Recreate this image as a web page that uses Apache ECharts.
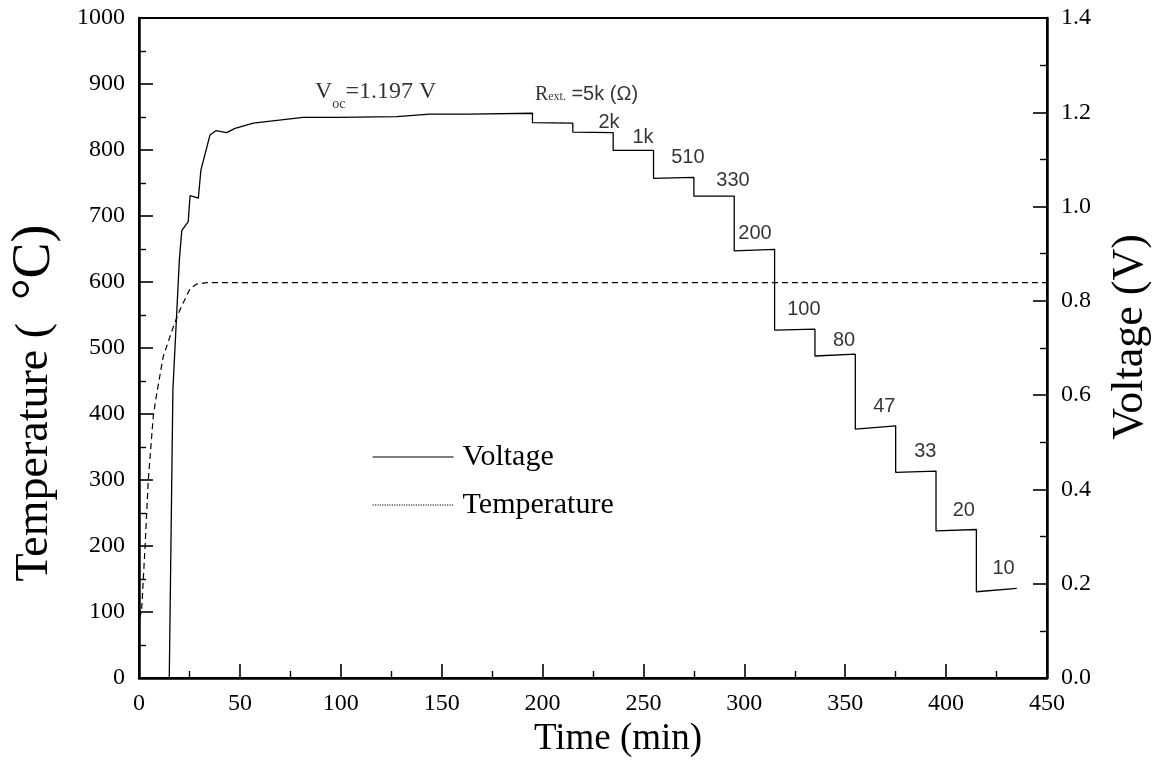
<!DOCTYPE html>
<html>
<head>
<meta charset="utf-8">
<script src="https://cdn.jsdelivr.net/npm/echarts@6/dist/echarts.min.js"></script>
<style>
    html, body { margin: 0; padding: 0; background: #fff; }
    #chart { width: 1152px; height: 762px; }
</style>
</head>
<body>
<div id="chart"></div>
<script>
// --- 数据 ---
// 电压 (V) 随时间 (min)
const voltTime = [15, 16.8, 20, 21.2, 24.4, 25.3, 29.4, 30.7, 35.2, 38.1, 43.4, 47.6, 56.6, 81.4, 98, 127.7, 144, 164, 195,
    195, 215, 215, 235, 235, 255, 255, 275, 275, 295, 295, 315, 315, 335, 335, 355, 355, 375, 375, 395, 395, 415, 415, 435];
const voltValue = [0, 0.611, 0.887, 0.949, 0.968, 1.023, 1.018, 1.078, 1.152, 1.161, 1.157, 1.166, 1.177, 1.189, 1.189, 1.191, 1.196, 1.196, 1.198,
    1.178, 1.177, 1.158, 1.157, 1.119, 1.119, 1.060, 1.062, 1.022, 1.022, 0.906, 0.909, 0.738, 0.740, 0.683, 0.687, 0.528, 0.535, 0.436, 0.439, 0.312, 0.315, 0.183, 0.190];

// 温度 (°C) 随时间 (min)
const tempTime = [0.3, 1.3, 3, 4.6, 7.1, 8.8, 12, 17, 20.3, 25.3, 28.6, 33.5, 450];
const tempValue = [90, 103, 199, 300, 398, 431, 487, 532, 558, 590, 597, 599, 599];

// 外接电阻标注
const stepLabels = ['2k', '1k', '510', '330', '200', '100', '80', '47', '33', '20', '10'];
const stepLabelTime = [232.9, 249.8, 272.0, 294.4, 305.3, 329.5, 349.4, 369.4, 389.7, 408.8, 428.5];
const stepLabelVolt = [1.179, 1.146, 1.105, 1.056, 0.942, 0.781, 0.716, 0.577, 0.480, 0.356, 0.233];

// 左对齐的标注 (开路电压, 电阻说明)
const noteTime = [87.2, 196.2];
const noteVolt = [1.243, 1.237];

const chart = echarts.init(document.getElementById('chart'));

const serif = 'Liberation Serif';
const sans = 'Liberation Sans';

function axisCommon() {
    return {
        axisLine: { show: true, lineStyle: { color: '#000', width: 2.5 } },
        axisTick: { show: true, inside: true, length: 14, lineStyle: { color: '#000', width: 1.6 } },
        minorTick: { show: true, splitNumber: 2, length: 7, lineStyle: { color: '#000', width: 1.4 } },
        splitLine: { show: false },
        axisLabel: { color: '#000', fontFamily: serif, fontSize: 24, margin: 14 }
    };
}

const stepData = stepLabels.map((txt, i) => ({
    value: [stepLabelTime[i], stepLabelVolt[i]],
    label: { formatter: txt }
}));

const noteData = [
    {
        value: [noteTime[0], noteVolt[0]],
        label: { formatter: '{a|V}{b|oc}{a|=1.197 V}' }
    },
    {
        value: [noteTime[1], noteVolt[1]],
        label: { formatter: '{r|R}{e|ext.}{s| =5k (Ω)}' }
    }
];

const option = {
    backgroundColor: '#fff',
    animation: false,
    grid: {
        left: 139, right: 105, top: 18, bottom: 84,
        show: true, borderColor: '#000', borderWidth: 2,
        outerBoundsMode: 'none'
    },
    legend: {
        orient: 'vertical',
        left: 367,
        top: 437,
        itemWidth: 81,
        itemHeight: 14,
        itemGap: 18,
        itemStyle: { opacity: 0 },
        textStyle: { color: '#000', fontFamily: serif, fontSize: 30, padding: [0, 0, 0, 4] },
        data: [
            { name: 'Voltage', itemStyle: { opacity: 0 }, lineStyle: { type: 'solid', width: 1.2, color: '#000', opacity: 1 } },
            { name: 'Temperature', itemStyle: { opacity: 0 }, lineStyle: { type: 'dotted', width: 1.2, color: '#000', opacity: 1 } }
        ]
    },
    xAxis: Object.assign(axisCommon(), {
        type: 'value',
        min: 0, max: 450, interval: 50,
        name: 'Time (min)',
        nameLocation: 'middle',
        nameGap: 38,
        nameTextStyle: { color: '#000', fontFamily: serif, fontSize: 37, padding: [0, 0, 0, 50] }
    }),
    yAxis: [
        Object.assign(axisCommon(), {
            type: 'value',
            position: 'left',
            min: 0, max: 1000, interval: 100,
            name: '{t|Temperature (  }{c|°C)}',
            nameLocation: 'middle',
            nameGap: 77,
            nameTextStyle: {
                color: '#000', fontFamily: serif, fontSize: 46, padding: [0, 110, 0, 0],
                rich: {
                    t: { fontFamily: serif, fontSize: 46, color: '#000' },
                    c: { fontFamily: serif, fontSize: 54, color: '#000' }
                }
            }
        }),
        Object.assign(axisCommon(), {
            type: 'value',
            position: 'right',
            min: 0, max: 1.4, interval: 0.2,
            name: 'Voltage (V)',
            nameLocation: 'middle',
            nameGap: 61,
            nameTextStyle: { color: '#000', fontFamily: serif, fontSize: 44, padding: [0, 0, 0, 22] }
        })
    ],
    series: [
        {
            name: 'Voltage',
            type: 'line',
            yAxisIndex: 1,
            symbol: 'none',
            lineStyle: { color: '#000', width: 1.3 },
            itemStyle: { color: '#000' },
            data: voltTime.map((t, i) => [t, voltValue[i]]),
            z: 3
        },
        {
            name: 'Temperature',
            type: 'line',
            yAxisIndex: 0,
            symbol: 'none',
            lineStyle: { color: '#000', width: 1.2, type: [6, 4] },
            itemStyle: { color: '#000' },
            data: tempTime.map((t, i) => [t, tempValue[i]]),
            z: 2
        },
        {
            name: 'steps',
            type: 'scatter',
            yAxisIndex: 1,
            symbolSize: 0,
            silent: true,
            label: {
                show: true,
                position: 'inside',
                color: '#000',
                fontFamily: sans,
                fontSize: 20
            },
            data: stepData
        },
        {
            name: 'notes',
            type: 'scatter',
            yAxisIndex: 1,
            symbolSize: 0,
            silent: true,
            label: {
                show: true,
                position: 'right',
                distance: 0,
                color: '#000',
                rich: {
                    a: { fontFamily: serif, fontSize: 24, lineHeight: 38, color: '#000' },
                    b: { fontFamily: serif, fontSize: 14, lineHeight: 14, verticalAlign: 'bottom', color: '#000' },
                    r: { fontFamily: serif, fontSize: 20, lineHeight: 24, color: '#000' },
                    e: { fontFamily: serif, fontSize: 12, lineHeight: 12, verticalAlign: 'bottom', padding: [0, 0, 4, 0], color: '#000' },
                    s: { fontFamily: sans, fontSize: 20, lineHeight: 24, color: '#000' }
                }
            },
            data: noteData
        }
    ]
};

// 刻度标签格式: 左轴不加千分位, 右轴保留一位小数
option.yAxis[0].axisLabel.formatter = v => String(v);
option.yAxis[1].axisLabel.formatter = v => v.toFixed(1);
option.xAxis.axisLabel.formatter = v => String(v);

chart.setOption(option);
</script>
</body>
</html>
